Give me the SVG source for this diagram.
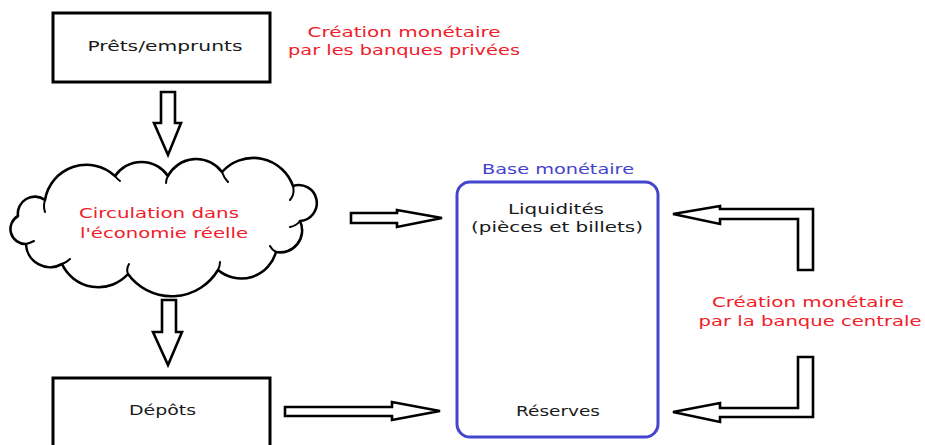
<svg xmlns="http://www.w3.org/2000/svg" width="925" height="445" viewBox="0 0 925 445">
<style>
text{font-family:"DejaVu Sans","Liberation Sans",sans-serif;font-size:14px;text-anchor:middle}
.blk{fill:#1a1a1a}
.red{fill:#f0202a}
.blue{fill:#4444cc}
.box{fill:#fff;stroke:#000;stroke-width:3}
.arrow{fill:#fff;stroke:#000;stroke-width:2.6;stroke-linejoin:miter}
.cloud{fill:#fff;stroke:#000;stroke-width:2.6;stroke-linejoin:round}
.curl{fill:none;stroke:#000;stroke-width:2;stroke-linecap:round}
</style>
<rect width="925" height="445" fill="#fff"/>
<g id="connectors">
<polygon class="arrow" points="161,92 175,92 175,123 181,123 168,155 154,123 161,123"/>
<polygon class="arrow" points="162,300 176,300 176,332 182,332 168,365 153,332 162,332"/>
<polygon class="arrow" points="351,213 397,213 397,210 442,218 397,227 397,223 351,223"/>
<polygon class="arrow" points="285,407 392,407 392,402 440,411 392,420 392,416 285,416"/>
<polygon class="arrow" points="673,214 720,206 720,209 813,209 813,270 798,270 798,219 720,219 720,224"/>
<polygon class="arrow" points="673,412 720,403 720,408 798,408 798,357 813,357 813,417 720,417 720,422"/>
</g>
<g id="prets">
<rect class="box" x="53" y="13" width="217" height="69"/>
<text class="blk" x="165" y="51" textLength="155" lengthAdjust="spacingAndGlyphs">Prêts/emprunts</text>
</g>
<g id="creation-privees">
<text class="red" x="404" y="37" textLength="193" lengthAdjust="spacingAndGlyphs">Création monétaire</text>
<text class="red" x="404" y="55" textLength="232" lengthAdjust="spacingAndGlyphs">par les banques privées</text>
</g>
<g id="circulation">
<path class="cloud" d="M18,216 A17,17 0 0 1 45,200 A42,42 0 0 1 115,176 A32,32 0 0 1 168,176 A32,32 0 0 1 222,172 A42,42 0 0 1 293,186 A18,18 0 1 1 300,221 A22,22 0 0 1 276,252 A36,36 0 0 1 218,270 A54,54 0 0 1 128,274 A40,40 0 0 1 62,264 A24,24 0 0 1 26,244 A15,15 0 0 1 18,216 Z"/>
<path class="curl" d="M45,200 q-2,6 0,12 M115,176 q2,3 5,5 M168,176 q-2,3 -2,7 M222,172 q2,6 6,10 M293,186 q2,8 -3,14 M300,221 q-4,5 -10,6 M276,252 q-4,-2 -6,-6 M218,270 q2,-4 2,-8 M128,274 q-2,-5 1,-10 M62,264 q5,-2 8,-5 M26,244 q4,-1 8,-3"/>
<text class="red" x="159" y="218" textLength="160" lengthAdjust="spacingAndGlyphs">Circulation dans</text>
<text class="red" x="164" y="238" textLength="168" lengthAdjust="spacingAndGlyphs">l'économie réelle</text>
</g>
<g id="depots">
<rect class="box" x="53" y="378" width="217" height="80"/>
<text class="blk" x="162.5" y="415" textLength="67" lengthAdjust="spacingAndGlyphs">Dépôts</text>
</g>
<g id="base">
<text class="blue" x="558" y="174" textLength="152" lengthAdjust="spacingAndGlyphs">Base monétaire</text>
<rect x="457" y="182" width="201" height="255" rx="13" fill="#fff" stroke="#4444cc" stroke-width="3"/>
<text class="blk" x="556" y="214" textLength="96" lengthAdjust="spacingAndGlyphs">Liquidités</text>
<text class="blk" x="557" y="232" textLength="172" lengthAdjust="spacingAndGlyphs">(pièces et billets)</text>
<text class="blk" x="558" y="416" textLength="84" lengthAdjust="spacingAndGlyphs">Réserves</text>
</g>
<g id="creation-centrale">
<text class="red" x="808" y="307" textLength="192" lengthAdjust="spacingAndGlyphs">Création monétaire</text>
<text class="red" x="810" y="326" textLength="223" lengthAdjust="spacingAndGlyphs">par la banque centrale</text>
</g>
</svg>
